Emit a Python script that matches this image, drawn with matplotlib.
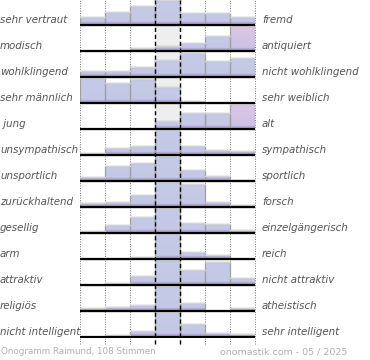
import matplotlib
matplotlib.use("Agg")
import matplotlib.pyplot as plt
import numpy as np

left_labels = ["sehr vertraut", "modisch", "wohlklingend", "sehr männlich", " jung",
               "unsympathisch", "unsportlich", "zurückhaltend", "gesellig", "arm",
               "attraktiv", "religiös", "nicht intelligent"]
right_labels = ["fremd", "antiquiert", "nicht wohlklingend", "sehr weiblich", "alt",
                "sympathisch", "sportlich", "forsch", "einzelgängerisch", "reich",
                "nicht attraktiv", "atheistisch", "sehr intelligent"]
values = [
    [8, 13, 19, 25, 12, 12.5, 8],
    [0, 0, 3, 5, 8, 15, 25],
    [6, 6, 10, 17, 24, 16, 19],
    [25, 20, 24, 16, 2, 0, 0],
    [0, 0.4, 0.4, 8, 16, 16, 25],
    [2, 7, 9, 25, 9, 5, 4],
    [4, 15.5, 18.5, 25, 11, 5, 1],
    [4, 5, 12.5, 25, 23, 5, 2],
    [2, 8, 16, 25, 10, 9, 3.5],
    [0.3, 0.5, 2, 25, 7, 4, 0],
    [0, 2, 9, 25, 15, 23, 7],
    [3, 4, 6, 25, 8, 0, 3],
    [0, 2, 6, 25, 13, 4.5, 3.5],
]
pink_cells = [(1, 6), (4, 6)]
footer_left = "Onogramm Raimund, 108 Stimmen"
footer_right = "onomastik.com - 05 / 2025"

W, H = 370, 360
fig = plt.figure(figsize=(W / 100, H / 100), dpi=100)
ROWH = 26
NROWS = len(values)
TOTAL = ROWH * NROWS  # 338
ax = fig.add_axes([80 / W, 1 - TOTAL / H, 175 / W, TOTAL / H])
ax.set_xlim(0, 7)
ax.set_ylim(0, TOTAL)
ax.axis("off")

# middle column background
ax.add_patch(plt.Rectangle((3, 0), 1, TOTAL, facecolor="#eeeeee", edgecolor="none", zorder=0))

CAP = 25
grad_blue = np.array([[0.773, 0.796, 0.902], [0.765, 0.784, 0.898], [0.70, 0.67, 0.86], [0.66, 0.62, 0.82]])
grad_pink = np.array([[0.867, 0.776, 0.902], [0.80, 0.76, 0.90], [0.70, 0.66, 0.86], [0.66, 0.62, 0.82]])

def gradient(colors, h):
    n = 50
    ys = np.linspace(0, 1, n)
    band = min(3.0 / max(h, 0.01), 1.0)
    img = np.zeros((n, 1, 3))
    for i, t in enumerate(ys):
        if t < 1 - band:
            f = t / max(1 - band, 1e-6)
            c = colors[0] * (1 - f) + colors[1] * f
        else:
            f = (t - (1 - band)) / band
            c = colors[2] * (1 - f) + colors[3] * f
        img[i, 0] = c
    return img

for r, row in enumerate(values):
    base = TOTAL - 25 - ROWH * r
    hs = [min(v, CAP) for v in row]
    bars = ax.bar(np.arange(7) + 0.5, hs, width=1.0, bottom=base, facecolor="none",
                  edgecolor="#a0a0a0", linewidth=0.9, zorder=3)
    for c, (b, h) in enumerate(zip(bars, hs)):
        if h <= 0:
            continue
        cols = grad_pink if (r, c) in pink_cells else grad_blue
        im = ax.imshow(gradient(cols, h), extent=(c, c + 1, base, base + h), aspect="auto",
                       origin="upper", zorder=2, interpolation="bilinear")
        im.set_clip_path(b)
        ax.plot([c, c + 1], [base + h, base + h], color="#d4d4d4", lw=1.0, zorder=3.5)
    ax.plot([0, 7], [base, base], color="black", lw=1.6, zorder=4, solid_capstyle="butt")
    fig.text(0 / W, 1 - (ROWH * r + 20) / H, left_labels[r], fontsize=7.4, style="italic",
             color="#555555", ha="left", va="center")
    fig.text(262 / W, 1 - (ROWH * r + 20) / H, right_labels[r], fontsize=7.4, style="italic",
             color="#555555", ha="left", va="center")

# vertical guide lines
for x in [0, 1, 2, 5, 6, 7]:
    ax.plot([x, x], [-6, TOTAL], color="#777777", lw=0.7, ls=(0, (1, 1.5)), zorder=1, clip_on=False)
for x in [3, 4]:
    ax.plot([x, x], [-6, TOTAL], color="black", lw=1.0, ls=(0, (3, 2)), zorder=5, clip_on=False)

fig.text(1 / W, 1 - 352 / H, footer_left, fontsize=6.3, color="#b0b0b0", ha="left", va="center")
fig.text(347 / W, 1 - 352 / H, footer_right, fontsize=6.8, color="#b0b0b0", ha="right", va="center")

fig.savefig("out.png", dpi=100)
